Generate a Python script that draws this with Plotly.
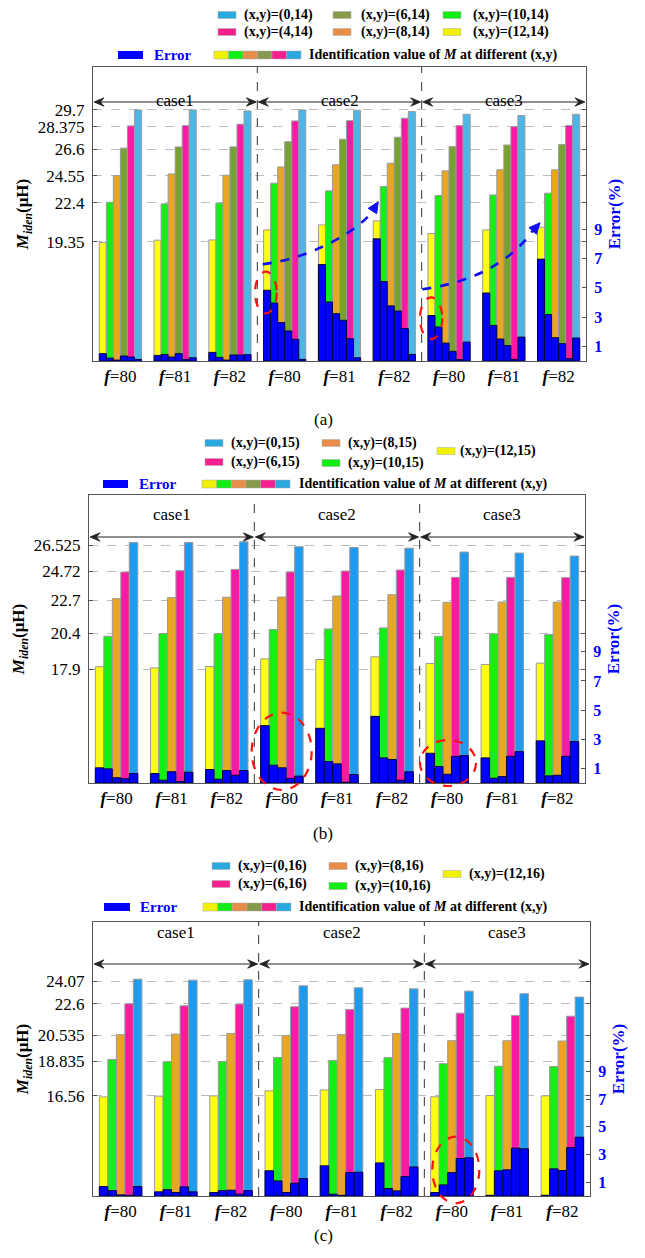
import plotly.graph_objects as go

W, H = 645, 1258
FONT = "Liberation Serif, Times New Roman, Tinos, serif"

# ---------------- data ----------------
x_idx = [0, 1, 2, 3, 4, 5, 6, 7, 8]
freq_labels = ["80", "81", "82", "80", "81", "82", "80", "81", "82"]
case_names = ["case1", "case2", "case3"]
err_ticks = [1, 3, 5, 7, 9]

# panel (a)
a_labels = ["(x,y)=(12,14)", "(x,y)=(10,14)", "(x,y)=(8,14)", "(x,y)=(6,14)", "(x,y)=(4,14)", "(x,y)=(0,14)"]
a_m_12 = [19.30, 19.48, 19.50, 20.29, 20.68, 21.00, 20.00, 20.29, 20.50]
a_m_10 = [22.45, 22.33, 22.40, 23.95, 23.35, 23.69, 22.98, 23.03, 23.17]
a_m_8 = [24.55, 24.68, 24.58, 25.23, 25.39, 25.52, 24.92, 25.00, 25.00]
a_m_6 = [26.70, 26.80, 26.80, 27.21, 27.40, 27.56, 26.82, 26.95, 26.98]
a_m_4 = [28.45, 28.47, 28.58, 28.84, 28.86, 29.05, 28.47, 28.39, 28.47]
a_m_0 = [29.70, 29.70, 29.62, 29.70, 29.68, 29.57, 29.36, 29.26, 29.36]
a_e_12 = [0.50, 0.38, 0.59, 4.83, 6.58, 8.34, 3.10, 4.64, 6.95]
a_e_10 = [0.20, 0.45, 0.25, 3.96, 4.03, 5.42, 2.32, 2.43, 3.17]
a_e_8 = [0.06, 0.27, 0.06, 2.62, 3.23, 3.76, 1.22, 1.50, 1.59]
a_e_6 = [0.34, 0.50, 0.41, 2.05, 2.78, 3.41, 0.66, 1.05, 1.18]
a_e_4 = [0.27, 0.09, 0.41, 1.48, 1.52, 2.21, 0.09, 0.11, 0.16]
a_e_0 = [0.11, 0.22, 0.43, 0.11, 0.22, 0.45, 1.29, 1.63, 1.57]
a_ticks = [19.35, 22.4, 24.55, 26.6, 28.375, 29.7]
a_tick_text = ["19.35", "22.4", "24.55", "26.6", "28.375", "29.7"]

# panel (b)
b_labels = ["(x,y)=(12,15)", "(x,y)=(10,15)", "(x,y)=(8,15)", "(x,y)=(6,15)", "(x,y)=(0,15)"]
b_m_12 = [18.09, 18.01, 18.10, 18.64, 18.59, 18.78, 18.32, 18.25, 18.34]
b_m_10 = [20.21, 20.40, 20.38, 20.68, 20.72, 20.79, 20.21, 20.38, 20.33]
b_m_8 = [22.83, 22.90, 22.92, 22.94, 23.01, 23.10, 22.57, 22.59, 22.59]
b_m_6 = [24.68, 24.77, 24.86, 24.68, 24.75, 24.82, 24.31, 24.31, 24.29]
b_m_0 = [26.73, 26.73, 26.78, 26.44, 26.39, 26.34, 26.07, 26.00, 25.79]
b_e_12 = [1.04, 0.65, 0.92, 3.93, 3.75, 4.57, 2.04, 1.72, 2.89]
b_e_10 = [0.97, 0.19, 0.26, 1.22, 1.47, 1.72, 1.13, 0.33, 0.49]
b_e_8 = [0.36, 0.77, 0.85, 1.04, 1.31, 1.61, 0.60, 0.44, 0.53]
b_e_6 = [0.29, 0.10, 0.53, 0.31, 0.05, 0.19, 1.83, 1.83, 1.83]
b_e_0 = [0.65, 0.74, 0.85, 0.47, 0.58, 0.77, 1.88, 2.15, 2.84]
b_ticks = [17.9, 20.4, 22.7, 24.72, 26.525]
b_tick_text = ["17.9", "20.4", "22.7", "24.72", "26.525"]

# panel (c)
c_labels = ["(x,y)=(12,16)", "(x,y)=(10,16)", "(x,y)=(8,16)", "(x,y)=(6,16)", "(x,y)=(0,16)"]
c_m_12 = [16.49, 16.54, 16.56, 16.89, 16.95, 16.97, 16.50, 16.58, 16.56]
c_m_10 = [18.94, 18.80, 18.80, 19.07, 18.87, 19.06, 18.67, 18.50, 18.48]
c_m_8 = [20.57, 20.61, 20.65, 20.52, 20.57, 20.64, 20.17, 20.17, 20.15]
c_m_6 = [22.59, 22.46, 22.57, 22.40, 22.22, 22.31, 21.98, 21.83, 21.78]
c_m_0 = [24.20, 24.14, 24.16, 23.77, 23.64, 23.57, 23.42, 23.25, 23.03]
c_e_12 = [0.68, 0.30, 0.25, 1.82, 2.18, 2.39, 0.25, 0.05, 0.05]
c_e_10 = [0.39, 0.46, 0.39, 1.09, 0.13, 0.54, 0.80, 1.82, 1.96]
c_e_8 = [0.08, 0.25, 0.42, 0.25, 0.05, 0.37, 1.69, 1.89, 1.84]
c_e_6 = [0.05, 0.66, 0.13, 0.92, 1.69, 1.40, 2.71, 3.46, 3.50]
c_e_0 = [0.68, 0.30, 0.39, 1.26, 1.72, 2.10, 2.76, 3.41, 4.25]
c_ticks = [16.56, 18.835, 20.535, 22.6, 24.07]
c_tick_text = ["16.56", "18.835", "20.535", "22.6", "24.07"]

# ---------------- styles ----------------
YEL, GRN, ORG, OLV, PNK = "#FFFF14", "#14F014", "#E8A624", "#77A232", "#FB1AA4"
BLU_A, BLU_B = "#4CB6E6", "#1D9BF0"
ERR = "#0000FF"
L_YEL, L_GRN, L_ORG, L_OLV, L_PNK, L_BLU = "#F2F200", "#11EE11", "#E98E48", "#879A4A", "#F7208F", "#2AA8E0"


def PX(x):
    return x / W


def PY(y):
    return 1 - y / H


def pth(pts):
    return " ".join(f"{PX(x):.5f},{PY(y):.5f}" for x, y in pts)


fig = go.Figure()
shapes = []
annos = []

panels = [
    dict(tag="(a)", labels=a_labels, m=[a_m_12, a_m_10, a_m_8, a_m_6, a_m_4, a_m_0],
         e=[a_e_12, a_e_10, a_e_8, a_e_6, a_e_4, a_e_0],
         colors=[YEL, GRN, ORG, OLV, PNK, BLU_A],
         lcolors=[L_YEL, L_GRN, L_ORG, L_OLV, L_PNK, L_BLU],
         ticks=a_ticks, tick_text=a_tick_text, yr=[10, 33.07], er=[0, 20.07],
         box=(93, 586, 67, 361), case_y=(89, 102), label_y=408,
         leg_cols=[(218, 242, [(5, 15), (4, 32)]), (333, 359, [(3, 15), (2, 32)]), (443, 471, [(1, 15), (0, 32)])],
         leg_row3=(55, 118, 143, 152, 214, 301, 307),
         ellipses=[(255, 276.7, 271.7, 313.3), (420, 442.3, 297.3, 339.3)]),
    dict(tag="(b)", labels=b_labels, m=[b_m_12, b_m_10, b_m_8, b_m_6, b_m_0],
         e=[b_e_12, b_e_10, b_e_8, b_e_6, b_e_0],
         colors=[YEL, GRN, ORG, PNK, BLU_B],
         lcolors=[L_YEL, L_GRN, L_ORG, L_PNK, L_BLU],
         ticks=b_ticks, tick_text=b_tick_text, yr=[10, 30.04], er=[0, 19.75],
         box=(89, 585, 495, 783), case_y=(515, 537), label_y=833,
         leg_cols=[(205, 229, [(4, 443), (3, 462)]), (322, 346, [(2, 443), (1, 463)]), (437, 458, [(0, 451)])],
         leg_row3=(484, 103, 128, 137, 202, 290, 297),
         ellipses=[(251.7, 311.7, 712.7, 790), (420, 476, 740, 786)]),
    dict(tag="(c)", labels=c_labels, m=[c_m_12, c_m_10, c_m_8, c_m_6, c_m_0],
         e=[c_e_12, c_e_10, c_e_8, c_e_6, c_e_0],
         colors=[YEL, GRN, ORG, PNK, BLU_B],
         lcolors=[L_YEL, L_GRN, L_ORG, L_PNK, L_BLU],
         ticks=c_ticks, tick_text=c_tick_text, yr=[10, 27.95], er=[0, 19.8],
         box=(93, 590, 922, 1196), case_y=(944, 964), label_y=1247,
         leg_cols=[(212, 236, [(4, 866), (3, 884)]), (329, 353, [(2, 866), (1, 886)]), (443, 467, [(0, 874)])],
         leg_row3=(907, 104, 130, 138, 203, 291, 297),
         ellipses=[(432.3, 479.3, 1136.7, 1203.3)]),
]

layout = {}
tick_text_x = ["<b><i>f</i></b>=" + f for f in freq_labels]


def barbed_head(tip_x, tip_y, direction):
    # direction: +1 points right, -1 points left
    d = direction
    back = (tip_x - d * 10, tip_y)
    notch = (tip_x - d * 6.5, tip_y)
    p1 = (back[0], tip_y - 4.2)
    p2 = (back[0], tip_y + 4.2)
    return dict(type="path", xref="paper", yref="paper",
                path=f"M {pth([(tip_x, tip_y)])} L {pth([p1])} L {pth([notch])} L {pth([p2])} Z",
                fillcolor="#222222", line=dict(color="#222222", width=0.8))


for i, p in enumerate(panels, start=1):
    xn = "x" if i == 1 else f"x{i}"
    yl = "y" if i == 1 else f"y{2 * i - 1}"
    yr_ = f"y{2 * i}"
    xkey = "xaxis" if i == 1 else f"xaxis{i}"
    ylkey = "yaxis" if i == 1 else f"yaxis{2 * i - 1}"
    yrkey = f"yaxis{2 * i}"
    L, R, T, B = p["box"]

    for j, (lab, vals, col) in enumerate(zip(p["labels"], p["m"], p["colors"])):
        fig.add_trace(go.Bar(x=x_idx, y=vals, xaxis=xn, yaxis=yl, name=lab,
                             marker=dict(color=col, line=dict(color="#9A9A9A", width=1)),
                             offsetgroup=f"p{i}g{j}", alignmentgroup=f"p{i}", showlegend=False))
    for j, (lab, errs) in enumerate(zip(p["labels"], p["e"])):
        fig.add_trace(go.Bar(x=x_idx, y=errs, xaxis=xn, yaxis=yr_, name="Error " + lab,
                             marker=dict(color=ERR, line=dict(color="#00003C", width=1)),
                             offsetgroup=f"p{i}g{j}", alignmentgroup=f"p{i}", showlegend=False))

    layout[xkey] = dict(domain=[PX(L), PX(R)], anchor=yl, range=[-0.5, 8.5],
                        tickvals=x_idx, ticktext=tick_text_x, ticks="",
                        tickfont=dict(family=FONT, size=17, color="black"),
                        showline=True, linecolor="#555555", linewidth=1, mirror=True,
                        showgrid=False, zeroline=False)
    layout[ylkey] = dict(domain=[PY(B), PY(T)], anchor=xn, range=p["yr"],
                         tickvals=p["ticks"], ticktext=p["tick_text"],
                         tickfont=dict(family=FONT, size=17, color="black"),
                         ticks="inside", ticklen=4, tickcolor="#555555",
                         showline=True, linecolor="#555555", linewidth=1, mirror="ticks",
                         showgrid=True, gridcolor="#BDBDBD", griddash="dash", gridwidth=1,
                         zeroline=False, ticklabelstandoff=4,
                         title=dict(text="<b><i>M</i></b><sub><b><i>iden</i></b></sub><b>(μH)</b>",
                                    font=dict(family=FONT, size=17, color="black"), standoff=4))
    layout[yrkey] = dict(overlaying=yl, anchor=xn, side="right", range=p["er"],
                         tickvals=err_ticks, ticktext=[str(v) for v in err_ticks],
                         tickfont=dict(family=FONT, size=16, color=ERR, weight="bold"),
                         ticks="inside", ticklen=4, tickcolor="#555555",
                         showline=True, linecolor="#555555", showgrid=False, zeroline=False,
                         ticklabelstandoff=4,
                         title=dict(text="Error(%)", font=dict(family=FONT, size=17, color=ERR, weight="bold"),
                                    standoff=6))

    # dividers between cases
    for xd in (2.5, 5.5):
        shapes.append(dict(type="line", xref=xn, yref=f"{yl} domain", x0=xd, x1=xd, y0=0, y1=1,
                           line=dict(color="#333333", width=1, dash="dash")))
    # case labels and double arrows
    ct, ca = p["case_y"]
    for k, cname in enumerate(case_names):
        annos.append(dict(text=cname, x=1 + 3 * k, xref=xn, y=PY(ct), yref="paper",
                          showarrow=False, font=dict(family=FONT, size=17, color="black")))
        x0p = L + (R - L) * (3 * k) / 9
        x1p = L + (R - L) * (3 * k + 3) / 9
        shapes.append(dict(type="line", xref="paper", yref="paper", x0=PX(x0p + 2), x1=PX(x1p - 2),
                           y0=PY(ca), y1=PY(ca), line=dict(color="#222222", width=1.1)))
        shapes.append(barbed_head(x0p + 1, ca, -1))
        shapes.append(barbed_head(x1p - 1, ca, +1))
    # panel label
    annos.append(dict(text=p["tag"], x=PX(323), y=PY(p["label_y"]), xref="paper", yref="paper",
                      showarrow=False, font=dict(family=FONT, size=17, color="black")))
    # legend: series entries
    for sx, tx, rows in p["leg_cols"]:
        for idx, ry in rows:
            shapes.append(dict(type="rect", xref="paper", yref="paper", x0=PX(sx), x1=PX(sx + 18),
                               y0=PY(ry + 3.5), y1=PY(ry - 3.5), fillcolor=p["lcolors"][idx],
                               line=dict(color="#AAAAAA", width=0.5)))
            annos.append(dict(text="<b>" + p["labels"][idx] + "</b>", x=PX(tx), y=PY(ry), xref="paper",
                              yref="paper", xanchor="left", yanchor="middle", showarrow=False,
                              font=dict(family=FONT, size=14, color="black")))
    # legend: error + multicolour entry
    ry, e0, e1, et, m0, m1, mt = p["leg_row3"]
    shapes.append(dict(type="rect", xref="paper", yref="paper", x0=PX(e0), x1=PX(e1),
                       y0=PY(ry + 4), y1=PY(ry - 4), fillcolor=ERR, line=dict(width=0)))
    annos.append(dict(text="<b>Error</b>", x=PX(et), y=PY(ry), xref="paper", yref="paper",
                      xanchor="left", yanchor="middle", showarrow=False,
                      font=dict(family=FONT, size=15, color=ERR)))
    multi = [L_YEL, L_GRN, L_ORG, L_OLV, L_PNK, L_BLU]
    seg = (m1 - m0) / len(multi)
    for k, col in enumerate(multi):
        shapes.append(dict(type="rect", xref="paper", yref="paper", x0=PX(m0 + k * seg), x1=PX(m0 + (k + 1) * seg),
                           y0=PY(ry + 4), y1=PY(ry - 4), fillcolor=col, line=dict(color="#AAAAAA", width=0.5)))
    annos.append(dict(text="<b>Identification value of <i>M</i> at different (x,y)</b>", x=PX(mt), y=PY(ry),
                      xref="paper", yref="paper", xanchor="left", yanchor="middle", showarrow=False,
                      font=dict(family=FONT, size=14, color="black")))
    # red dashed ellipses
    for ex0, ex1, ey0, ey1 in p["ellipses"]:
        shapes.append(dict(type="circle", xref="paper", yref="paper", x0=PX(ex0), x1=PX(ex1),
                           y0=PY(ey1), y1=PY(ey0), line=dict(color="#FF1010", width=2.2, dash="dash")))

# blue dashed trend curves in panel (a)
curves = [
    ((262.7, 264.3), (317.2, 257.1), (362.3, 227.1), (373.0, 210.2), (378.3, 201.7), (0.535, -0.845)),
    ((422.3, 289.3), (501.5, 278.2), (525.5, 239.2), (533.4, 230.2), (540.0, 222.7), (0.66, -0.75)),
]
for S, C1, C2, E, Tp, d in curves:
    shapes.append(dict(type="path", xref="paper", yref="paper",
                       path=f"M {pth([S])} C {pth([C1, C2, E])}",
                       line=dict(color="#1010F0", width=2.6, dash="dash")))
    nx, ny = -d[1], d[0]
    bx, by = Tp[0] - 11 * d[0], Tp[1] - 11 * d[1]
    tri = [Tp, (bx + 5 * nx, by + 5 * ny), (bx - 5 * nx, by - 5 * ny)]
    shapes.append(dict(type="path", xref="paper", yref="paper",
                       path=f"M {pth([tri[0]])} L {pth([tri[1]])} L {pth([tri[2]])} Z",
                       fillcolor="#1010F0", line=dict(color="#1010F0", width=1)))

fig.update_layout(
    width=W, height=H, margin=dict(l=0, r=0, t=0, b=0),
    paper_bgcolor="white", plot_bgcolor="white",
    barmode="group", bargap=0.23, bargroupgap=0,
    showlegend=False, shapes=shapes, annotations=annos,
    font=dict(family=FONT, color="black"),
    **layout,
)

fig.write_html("out.html", config={"displayModeBar": False},
               post_script="document.body.style.margin='0';")
